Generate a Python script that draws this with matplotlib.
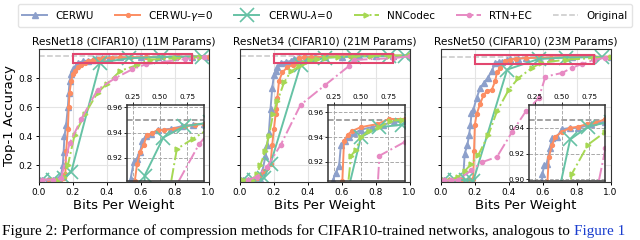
import matplotlib
matplotlib.use('Agg')
import matplotlib.pyplot as plt
from matplotlib.patches import Rectangle
from matplotlib.lines import Line2D

# ---------------- data ----------------
titles = ["ResNet18 (CIFAR10) (11M Params)",
          "ResNet34 (CIFAR10) (21M Params)",
          "ResNet50 (CIFAR10) (23M Params)"]
original_acc = [0.950, 0.954, 0.946]
labels = ["CERWU", "CERWU-$\\gamma$=0", "CERWU-$\\lambda$=0", "NNCodec", "RTN+EC", "Original"]

# ResNet18
r18_cerwu_x = [0.02, 0.05, 0.08, 0.10, 0.12, 0.13, 0.14, 0.145, 0.15, 0.16, 0.17, 0.175, 0.18, 0.19,
               0.20, 0.215, 0.23, 0.26, 0.29, 0.32, 0.335, 0.37, 0.415, 0.48, 0.60, 0.70, 0.80, 0.90, 1.0]
r18_cerwu_y = [0.10, 0.10, 0.10, 0.105, 0.11, 0.13, 0.20, 0.29, 0.40, 0.48, 0.60, 0.70, 0.78, 0.83,
               0.86, 0.885, 0.903, 0.917, 0.919, 0.925, 0.933, 0.937, 0.939, 0.942, 0.943, 0.945, 0.946, 0.947, 0.948]
r18_gam_x = [0.02, 0.06, 0.10, 0.13, 0.15, 0.155, 0.16, 0.17, 0.175, 0.18, 0.19, 0.20, 0.21, 0.23, 0.25,
             0.27, 0.29, 0.32, 0.35, 0.38, 0.43, 0.48, 0.54, 0.63, 0.73, 0.82, 0.90, 1.0]
r18_gam_y = [0.10, 0.10, 0.10, 0.105, 0.11, 0.14, 0.30, 0.45, 0.60, 0.70, 0.78, 0.83, 0.85, 0.875, 0.89,
             0.902, 0.915, 0.925, 0.930, 0.938, 0.9395, 0.942, 0.942, 0.943, 0.945, 0.946, 0.947, 0.948]
r18_lam_x = [0.02, 0.08, 0.15, 0.19, 0.36, 0.53, 0.72, 0.96]
r18_lam_y = [0.10, 0.10, 0.11, 0.155, 0.906, 0.936, 0.945, 0.948]
r18_nnc_x = [0.08, 0.11, 0.15, 0.17, 0.21, 0.27, 0.345, 0.40, 0.48, 0.58, 0.655, 0.80, 0.95]
r18_nnc_y = [0.10, 0.10, 0.12, 0.20, 0.41, 0.55, 0.70, 0.76, 0.85, 0.89, 0.927, 0.935, 0.943]
r18_rtn_x = [0.02, 0.08, 0.13, 0.18, 0.25, 0.345, 0.45, 0.55, 0.63, 0.86, 0.97]
r18_rtn_y = [0.10, 0.10, 0.11, 0.35, 0.52, 0.72, 0.80, 0.86, 0.895, 0.931, 0.942]

# ResNet34
r34_cerwu_x = [0.02, 0.05, 0.08, 0.10, 0.12, 0.13, 0.15, 0.16, 0.17, 0.18, 0.19, 0.20, 0.21, 0.22, 0.24,
               0.27, 0.30, 0.317, 0.35, 0.39, 0.44, 0.50, 0.60, 0.70, 0.80, 0.90, 1.0]
r34_cerwu_y = [0.10, 0.10, 0.10, 0.10, 0.105, 0.15, 0.26, 0.34, 0.42, 0.59, 0.73, 0.82, 0.85, 0.874, 0.905,
               0.911, 0.917, 0.934, 0.937, 0.940, 0.943, 0.946, 0.948, 0.950, 0.952, 0.953, 0.954]
r34_gam_x = [0.02, 0.05, 0.08, 0.10, 0.12, 0.14, 0.16, 0.18, 0.19, 0.20, 0.21, 0.215, 0.22, 0.23, 0.25,
             0.28, 0.31, 0.33, 0.345, 0.38, 0.42, 0.50, 0.65, 0.76, 0.90, 1.0]
r34_gam_y = [0.10, 0.10, 0.10, 0.11, 0.13, 0.16, 0.18, 0.21, 0.34, 0.45, 0.55, 0.59, 0.66, 0.78, 0.84,
             0.875, 0.89, 0.905, 0.937, 0.942, 0.945, 0.948, 0.9505, 0.9546, 0.9546, 0.955]
r34_lam_x = [0.02, 0.08, 0.14, 0.18, 0.357, 0.50, 0.67, 0.88, 0.97]
r34_lam_y = [0.10, 0.10, 0.11, 0.21, 0.888, 0.940, 0.948, 0.950, 0.953]
r34_nnc_x = [0.02, 0.07, 0.10, 0.12, 0.15, 0.17, 0.195, 0.22, 0.26, 0.30, 0.35, 0.38, 0.41, 0.455, 0.50,
             0.576, 0.67, 0.77, 0.88, 1.0]
r34_nnc_y = [0.10, 0.10, 0.14, 0.20, 0.30, 0.40, 0.55, 0.64, 0.77, 0.846, 0.88, 0.90, 0.925, 0.930, 0.940,
             0.945, 0.948, 0.953, 0.954, 0.955]
r34_rtn_x = [0.05, 0.10, 0.16, 0.24, 0.357, 0.50, 0.64, 0.67, 0.90, 1.0]
r34_rtn_y = [0.10, 0.12, 0.19, 0.34, 0.615, 0.75, 0.88, 0.925, 0.936, 0.950]

# ResNet50
r50_cerwu_x = [0.02, 0.05, 0.08, 0.10, 0.12, 0.13, 0.14, 0.156, 0.166, 0.174, 0.18, 0.19, 0.21, 0.23, 0.253,
               0.275, 0.30, 0.32, 0.34, 0.36, 0.39, 0.41, 0.455, 0.50, 0.576, 0.65, 0.77, 0.90, 1.0]
r50_cerwu_y = [0.095, 0.095, 0.095, 0.095, 0.095, 0.09, 0.28, 0.34, 0.41, 0.477, 0.557, 0.58, 0.66, 0.73, 0.765,
               0.80, 0.85, 0.904, 0.911, 0.912, 0.924, 0.9325, 0.933, 0.939, 0.940, 0.940, 0.9427, 0.945, 0.946]
r50_gam_x = [0.02, 0.05, 0.08, 0.12, 0.16, 0.19, 0.195, 0.20, 0.21, 0.23, 0.25, 0.27, 0.30, 0.32, 0.33,
             0.35, 0.38, 0.41, 0.44, 0.50, 0.576, 0.65, 0.73, 0.80, 0.90, 1.0]
r50_gam_y = [0.10, 0.10, 0.10, 0.10, 0.10, 0.105, 0.30, 0.48, 0.55, 0.62, 0.68, 0.71, 0.72, 0.78, 0.84,
             0.87, 0.917, 0.927, 0.933, 0.937, 0.940, 0.941, 0.943, 0.944, 0.9467, 0.947]
r50_lam_x = [0.02, 0.08, 0.15, 0.19, 0.39, 0.576, 0.74, 0.95]
r50_lam_y = [0.095, 0.095, 0.10, 0.09, 0.858, 0.931, 0.941, 0.945]
r50_nnc_x = [0.02, 0.06, 0.10, 0.14, 0.18, 0.22, 0.28, 0.33, 0.40, 0.457, 0.537, 0.59, 0.74, 0.90, 1.0]
r50_nnc_y = [0.10, 0.10, 0.12, 0.16, 0.21, 0.27, 0.41, 0.57, 0.72, 0.80, 0.87, 0.904, 0.927, 0.937, 0.945]
r50_rtn_x = [0.02, 0.06, 0.10, 0.18, 0.24, 0.33, 0.42, 0.50, 0.576, 0.616, 0.715, 0.77, 0.83, 0.90, 0.97]
r50_rtn_y = [0.095, 0.095, 0.10, 0.165, 0.22, 0.257, 0.43, 0.57, 0.66, 0.81, 0.835, 0.87, 0.895, 0.924, 0.940]

inset_ylims = [(0.902, 0.962), (0.905, 0.966), (0.899, 0.958)]
inset_yticks = [[0.92, 0.94, 0.96], [0.92, 0.94, 0.96], [0.90, 0.92, 0.94]]

panels = [
    [(r18_cerwu_x, r18_cerwu_y), (r18_gam_x, r18_gam_y), (r18_lam_x, r18_lam_y),
     (r18_nnc_x, r18_nnc_y), (r18_rtn_x, r18_rtn_y)],
    [(r34_cerwu_x, r34_cerwu_y), (r34_gam_x, r34_gam_y), (r34_lam_x, r34_lam_y),
     (r34_nnc_x, r34_nnc_y), (r34_rtn_x, r34_rtn_y)],
    [(r50_cerwu_x, r50_cerwu_y), (r50_gam_x, r50_gam_y), (r50_lam_x, r50_lam_y),
     (r50_nnc_x, r50_nnc_y), (r50_rtn_x, r50_rtn_y)],
]

# ---------------- styles ----------------
styles = [
    dict(color='#8da0cb', marker='^', ms=3.8, ls='-', lw=1.4),
    dict(color='#fc8d62', marker='o', ms=2.8, ls='-', lw=1.4),
    dict(color='#66c2a5', marker='x', ms=10, mew=1.2, ls='-', lw=1.4),
    dict(color='#a6d854', marker='>', ms=3.5, ls='-.', lw=1.4),
    dict(color='#e78ac3', marker='o', ms=3.0, ls='-.', lw=1.4),
]
rect_color = '#e2476f'

fig = plt.figure(figsize=(6.4, 2.4), dpi=100)
lefts = [0.061, 0.375, 0.689]
axes = []
for i in range(3):
    ax = fig.add_axes([lefts[i], 0.242, 0.265, 0.554])
    axes.append(ax)
    ax.set_xlim(0, 1.0)
    ax.set_ylim(0.085, 1.0)
    ax.set_xticks([0.0, 0.2, 0.4, 0.6, 0.8, 1.0])
    ax.set_yticks([0.2, 0.4, 0.6, 0.8])
    ax.grid(True, color='#e4e4e4', lw=0.8)
    ax.set_axisbelow(True)
    ax.tick_params(labelsize=6.5, length=2.5, width=0.7, pad=2)
    for s in ax.spines.values():
        s.set_color('#333333')
        s.set_linewidth(0.8)
    if i > 0:
        ax.set_yticklabels([])
    else:
        ax.set_ylabel("Top-1 Accuracy", fontsize=9.5, labelpad=2)
    ax.set_xlabel("Bits Per Weight", fontsize=9.5, labelpad=1)
    ax.set_title(titles[i], fontsize=7.7, pad=3)

    ax.axhline(original_acc[i], color='#c8c8c8', ls='--', lw=1.1, zorder=1)
    for (xs, ys), st in zip(panels[i], styles):
        ax.plot(xs, ys, **st)

    ins = ax.inset_axes([0.52, 0.01, 0.45, 0.57])
    ins.set_xlim(0.2, 0.9)
    ins.set_ylim(*inset_ylims[i])
    ins.set_facecolor('white')
    ins.axhline(original_acc[i], color='#888888', ls='--', lw=1.1, zorder=1)
    for (xs, ys), st in zip(panels[i], styles):
        ins.plot(xs, ys, **st)
    ins.xaxis.tick_top()
    ins.set_xticks([0.25, 0.50, 0.75])
    ins.set_yticks(inset_yticks[i])
    ins.tick_params(labelsize=5.2, length=2, width=0.6, pad=1.5)
    ins.grid(True, color='#aaaaaa', ls='--', lw=0.7)
    for s in ins.spines.values():
        s.set_color('#333333')
        s.set_linewidth(1.1)

    ax.add_patch(Rectangle((0.2, inset_ylims[i][0]), 0.7, inset_ylims[i][1] - inset_ylims[i][0],
                           fill=False, edgecolor=rect_color, lw=1.5, zorder=5))

handles = [Line2D([], [], **st) for st in styles]
handles.append(Line2D([], [], color='#c8c8c8', ls='--', lw=1.1))
fig.legend(handles, labels, loc='upper center', bbox_to_anchor=(0.508, 1.005), ncol=6,
           fontsize=7.5, handlelength=2.4, columnspacing=2.0, frameon=True,
           edgecolor='#dddddd', borderpad=0.45)

# caption
cap_y = 0.02
cap = fig.text(0.003, cap_y, "Figure 2: Performance of compression methods for CIFAR10-trained networks, analogous to ",
               fontsize=11.0, family='Liberation Serif', va='baseline', ha='left')
fig.canvas.draw()
bb = cap.get_window_extent(renderer=fig.canvas.get_renderer())
fig.text(bb.x1 / fig.bbox.width, cap_y, "Figure 1", fontsize=11.0, family='Liberation Serif',
         va='baseline', ha='left', color='#1a3ecf')

fig.savefig('out.png', dpi=100)
